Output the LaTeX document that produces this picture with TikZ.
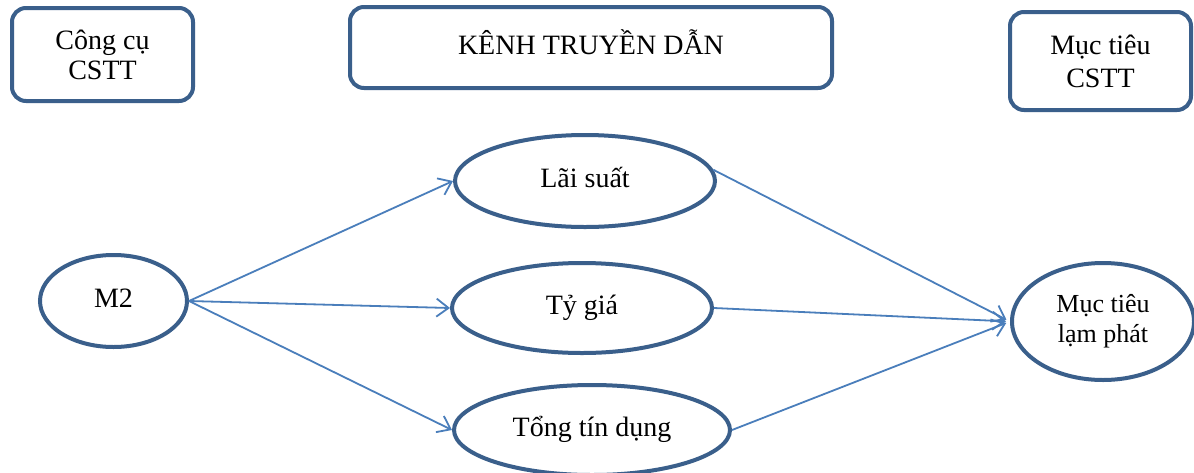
\documentclass[tikz,border=0pt]{standalone}
\usepackage{fontspec}
\setmainfont{Liberation Serif}
\usetikzlibrary{shapes.geometric,arrows.meta}
\definecolor{edgeblue}{HTML}{3A5F8B}
\definecolor{arrowblue}{HTML}{4A7EBB}
\begin{document}
\begin{tikzpicture}[x=1pt,y=-1pt,
  rbox/.style={draw=edgeblue, line width=4pt, rounded corners=14pt, rectangle, align=center, inner sep=0pt, font=\fontsize{28}{30}\selectfont},
  oval/.style={draw=edgeblue, line width=4pt, ellipse, inner sep=0pt, align=center, font=\fontsize{28}{30}\selectfont},
  oneline/.style={text height=19pt, text depth=6pt},
  link/.style={draw=arrowblue, line width=1.8pt, -{Straight Barb[length=12pt,width=18pt]}}
]
\useasboundingbox (0,0) rectangle (1194,472);
\fill[white] (0,0) rectangle (1194,472);

% header boxes
\node[rbox, minimum width=181pt, minimum height=93pt] (tool) at (102.5,54.5) {Công cụ\\CSTT};
\node[rbox, oneline, minimum width=482pt, minimum height=81pt] (chan) at (591,47.5) {KÊNH TRUYỀN DẪN};
\node[rbox, minimum width=181pt, minimum height=98pt, font=\fontsize{28}{33}\selectfont] (goal) at (1100.5,61) {Mục tiêu\\CSTT};

% ellipses
\node[oval, oneline, minimum width=147pt, minimum height=92pt] (m2) at (113.5,301) {M2};
\node[oval, oneline, minimum width=260pt, minimum height=92pt] (ls) at (585,181) {Lãi suất};
\node[oval, oneline, minimum width=260pt, minimum height=90pt] (tg) at (582,308) {Tỷ giá};
\node[oval, oneline, minimum width=276pt, minimum height=90pt] (td) at (592,430) {Tổng tín dụng};
\node[oval, minimum width=182pt, minimum height=117pt, font=\fontsize{26}{30}\selectfont] (inf) at (1103,321.5) {\raisebox{-4pt}{Mục tiêu}\\\raisebox{-4pt}{lạm phát}};

% connectors
\draw[link] (m2.east) -- (ls.west);
\draw[link] (m2.east) -- (tg.west);
\draw[link] (m2.east) -- (td.west);
\draw[link, shorten >=4pt] (ls.5) -- (inf.west);
\draw[link, shorten >=4pt] (tg.east) -- (inf.west);
\draw[link, shorten >=4pt] (td.east) -- (inf.west);
\end{tikzpicture}
\end{document}
